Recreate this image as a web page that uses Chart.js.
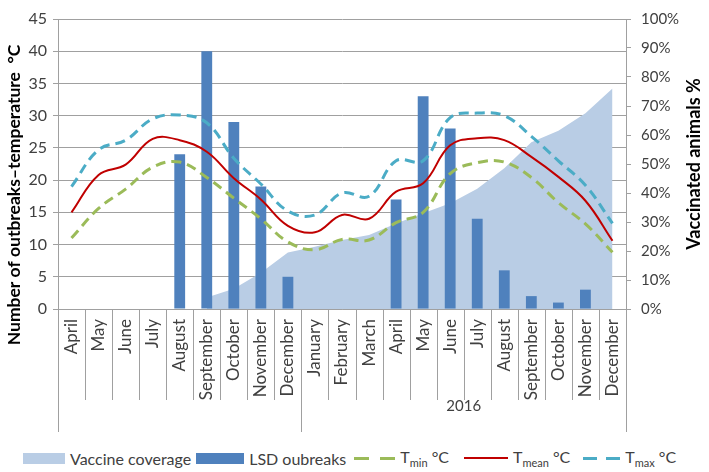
<!DOCTYPE html>
<html>
<head>
<meta charset="utf-8">
<script src="https://cdn.jsdelivr.net/npm/chart.js@4/dist/chart.umd.min.js"></script>
<style>
  body { margin: 0; background: #fff; font-family: Lato, sans-serif; }
  #wrap { position: relative; width: 709px; height: 472px; }
  #chartBox { position: absolute; left: 0; top: 0; width: 709px; height: 440px; }
  #legend { position: absolute; left: 23px; top: 447px; height: 22px; display: flex; align-items: center;
            font-size: 16px; color: #404040; white-space: nowrap; }
  #legend .item { display: flex; align-items: center; margin-right: 5px; }
  #legend .mark { margin-right: 5px; }
  #legend sub { font-size: 11px; vertical-align: -4px; }
</style>
</head>
<body>
<div id="wrap">
  <div id="chartBox"><canvas id="lsdChart"></canvas></div>
  <div id="legend">
    <span class="item"><span class="mark" style="width:42px;height:11px;background:#b9cde5"></span><span>Vaccine coverage</span></span>
    <span class="item"><span class="mark" style="width:48px;height:11px;background:#4f81bd"></span><span>LSD oubreaks</span></span>
    <span class="item" style="margin-left:3px"><span class="mark" style="width:41px;height:3px;background:repeating-linear-gradient(90deg,#9bbb59 0 15px,transparent 15px 26px)"></span><span>T<sub>min</sub>&nbsp;°C</span></span>
    <span class="item" style="margin-left:10px"><span class="mark" style="width:44px;height:2px;background:#c00000"></span><span>T<sub>mean</sub>&nbsp;°C</span></span>
    <span class="item" style="margin-left:8px"><span class="mark" style="width:37px;height:3px;background:repeating-linear-gradient(90deg,#4bacc6 0 14px,transparent 14px 23px)"></span><span>T<sub>max</sub>&nbsp;°C</span></span>
  </div>
</div>
<script>
// LSD outbreaks, temperature and vaccine coverage, April 2015 - December 2016

const months = ['April', 'May', 'June', 'July', 'August', 'September', 'October', 'November', 'December',
                'January', 'February', 'March', 'April', 'May', 'June', 'July', 'August', 'September',
                'October', 'November', 'December'];
const yearLabels = ['', '2016'];
const yearStarts = [0, 9];

const outbreaks = [0, 0, 0, 0, 24, 40, 29, 19, 5, 0, 0, 0, 17, 33, 28, 14, 6, 2, 1, 3, 0];
const vaccineCoverage = [null, null, null, null, null, 4, 7, 12.5, 19.5, 21.5, 23.8, 25.5,
                         29.5, 33, 36.5, 41.5, 48.5, 57.5, 61.5, 67.5, 76];
const tMin = [11, 15.6, 18.6, 22, 22.8, 20.4, 17.2, 14, 10.4, 9.2, 10.8, 10.7,
              13.4, 15, 21, 22.7, 22.8, 20.4, 16.5, 13.2, 8.8];
const tMean = [15, 20.8, 22.4, 26.4, 26.2, 24.4, 20.3, 17, 12.9, 11.9, 14.6, 14,
               18.2, 19.5, 25.4, 26.5, 26.2, 23.6, 20.5, 16.8, 10.6];
const tMax = [19, 24.7, 26.2, 29.5, 30.1, 28.9, 23.4, 19.4, 15.2, 14.6, 18, 17.5,
              23, 23, 29.7, 30.4, 30, 26.8, 23, 19.2, 13.3];

const leftTitle = 'Number of outbreaks\u2013temperature  °C';
const rightTitle = 'Vaccinated animals %';

const gridColor = '#a0a0a0';
const textColor = '#404040';
const fontFamily = 'Lato, sans-serif';

// month separators, year row and both axis titles (read bottom to top)
const axisExtras = {
    id: 'axisExtras',
    afterDraw(chart) {
        const { ctx, chartArea, scales: { x } } = chart;
        const step = x.getPixelForValue(1) - x.getPixelForValue(0);
        const start = x.getPixelForValue(0) - step / 2;
        const bottom = chartArea.bottom;
        ctx.save();
        ctx.strokeStyle = gridColor;
        ctx.lineWidth = 1;
        for (let i = 0; i <= months.length; i++) {
            const px = Math.round(start + i * step) + 0.5;
            const groupEdge = i === months.length || yearStarts.includes(i);
            ctx.beginPath();
            ctx.moveTo(px, bottom);
            ctx.lineTo(px, bottom + (groupEdge ? 123 : 91));
            ctx.stroke();
        }
        ctx.fillStyle = textColor;
        ctx.font = '15px ' + fontFamily;
        ctx.textAlign = 'center';
        ctx.textBaseline = 'middle';
        yearLabels.forEach((label, k) => {
            const last = (k + 1 < yearStarts.length ? yearStarts[k + 1] : months.length) - 1;
            const mid = (x.getPixelForValue(yearStarts[k]) + x.getPixelForValue(last)) / 2;
            ctx.fillText(label, mid, bottom + 97);
        });
        ctx.fillStyle = '#000';
        ctx.save();
        ctx.translate(14, 195);
        ctx.rotate(-Math.PI / 2);
        ctx.font = 'bold 17.5px ' + fontFamily;
        ctx.fillText(leftTitle, 0, 0);
        ctx.restore();
        ctx.translate(694, (chartArea.top + chartArea.bottom) / 2);
        ctx.rotate(-Math.PI / 2);
        ctx.font = 'bold 18px ' + fontFamily;
        ctx.fillText(rightTitle, 0, 0);
        ctx.restore();
    }
};

const ctx = document.getElementById('lsdChart').getContext('2d');
new Chart(ctx, {
    data: {
        labels: months,
        datasets: [
            {
                type: 'line',
                label: 'Tmin °C',
                data: tMin,
                borderColor: '#9bbb59',
                borderWidth: 3,
                borderDash: [10, 6],
                tension: 0.4,
                pointRadius: 0,
                yAxisID: 'y',
                order: 1
            },
            {
                type: 'line',
                label: 'Tmean °C',
                data: tMean,
                borderColor: '#c00000',
                borderWidth: 2,
                tension: 0.4,
                pointRadius: 0,
                yAxisID: 'y',
                order: 1
            },
            {
                type: 'line',
                label: 'Tmax °C',
                data: tMax,
                borderColor: '#4bacc6',
                borderWidth: 3,
                borderDash: [10, 6],
                tension: 0.4,
                pointRadius: 0,
                yAxisID: 'y',
                order: 1
            },
            {
                type: 'bar',
                label: 'LSD oubreaks',
                data: outbreaks,
                backgroundColor: '#4f81bd',
                categoryPercentage: 1,
                barPercentage: 0.4,
                yAxisID: 'y',
                order: 2
            },
            {
                type: 'line',
                label: 'Vaccine coverage',
                data: vaccineCoverage,
                backgroundColor: '#b9cde5',
                borderWidth: 0,
                fill: 'origin',
                tension: 0,
                pointRadius: 0,
                yAxisID: 'y1',
                order: 3
            }
        ]
    },
    options: {
        responsive: true,
        maintainAspectRatio: false,
        animation: false,
        layout: { padding: { top: 0, left: 0, right: 0, bottom: 0 } },
        plugins: {
            legend: { display: false },
            tooltip: { enabled: false }
        },
        scales: {
            x: {
                grid: { display: false, drawTicks: false },
                border: { display: true, color: gridColor },
                ticks: {
                    color: textColor,
                    font: { family: fontFamily, size: 17 },
                    minRotation: 90,
                    maxRotation: 90,
                    autoSkip: false,
                    padding: 10
                },
                afterFit(scale) { scale.height = 131; }
            },
            y: {
                position: 'left',
                min: 0,
                max: 45,
                ticks: {
                    stepSize: 5,
                    color: textColor,
                    font: { family: fontFamily, size: 16 },
                    padding: 6
                },
                grid: { color: gridColor, tickLength: 5 },
                border: { display: true, color: gridColor },
                afterFit(scale) { scale.width = 58; }
            },
            y1: {
                position: 'right',
                min: 0,
                max: 100,
                ticks: {
                    stepSize: 10,
                    color: textColor,
                    font: { family: fontFamily, size: 15 },
                    padding: 10,
                    callback: v => v + '%'
                },
                grid: { drawOnChartArea: false, color: gridColor, tickLength: 5 },
                border: { display: true, color: gridColor },
                afterFit(scale) { scale.width = 83; }
            }
        }
    },
    plugins: [axisExtras]
});
</script>
</body>
</html>
